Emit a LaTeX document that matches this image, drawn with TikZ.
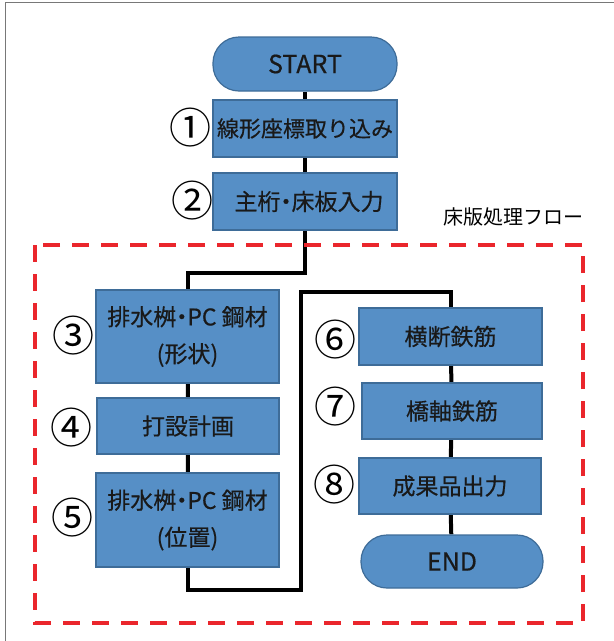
\documentclass[tikz,border=0pt]{standalone}
\usepackage{fontspec}
\newfontfamily\jp{Noto Sans CJK JP}
\newfontfamily\jpb[FakeBold=0.5]{Noto Sans CJK JP}
\usetikzlibrary{backgrounds}
\definecolor{boxfill}{RGB}{86,143,198}
\definecolor{boxedge}{RGB}{62,108,152}
\definecolor{dashred}{RGB}{234,38,44}
\definecolor{framegray}{RGB}{120,120,120}
\newcommand{\nd}{\kern-6pt・\kern-6pt}
\tikzset{
  box/.style={draw=boxedge, fill=boxfill, line width=1.2pt, inner sep=0pt,
    align=center, font=\jpb\fontsize{23}{37}\selectfont, text=black!90},
  term/.style={box, rounded corners=26pt, font=\jpb\fontsize{25}{30}\selectfont},
  num/.style={inner sep=0pt, font=\jp\fontsize{42}{44}\selectfont},
  conn/.style={line width=4pt, black, line join=miter},
}
\begin{document}
\begin{tikzpicture}[x=1pt,y=-1pt]
\useasboundingbox (0,0) rectangle (614,641);
\draw[framegray, line width=1pt] (5.5,641) -- (5.5,2.5) -- (614,2.5);

% nodes
\node[term, minimum width=184pt, minimum height=54pt] (start) at (305,64) {START};
\node[box, font=\jpb\fontsize{22}{37}\selectfont, minimum width=184pt, minimum height=57pt] (b1) at (305,128.5) {線形座標取り込み};
\node[box, minimum width=184pt, minimum height=57pt] (b2) at (305,201.5) {\hspace*{8pt}主桁\nd 床板入力};
\node[box, minimum width=183pt, minimum height=93pt] (b3) at (187.5,336.5) {排水桝\nd PC 鋼材\\(形状)};
\node[box, minimum width=182pt, minimum height=56pt] (b4) at (188,426) {打設計画};
\node[box, minimum width=183pt, minimum height=94pt] (b5) at (187.5,520) {排水桝\nd PC 鋼材\\(位置)};
\node[box, minimum width=183pt, minimum height=57pt] (b6) at (450.5,336.5) {横断鉄筋};
\node[box, minimum width=180pt, minimum height=56pt] (b7) at (452,411) {橋軸鉄筋};
\node[box, minimum width=182pt, minimum height=56pt] (b8) at (450,486) {成果品出力};
\node[term, minimum width=182pt, minimum height=53pt] (end) at (452,561.5) {END};

% circled numbers
\node[num] (n1) at (190,128) {①};
\node[num] (n2) at (192,201) {②};
\node[num] (n3) at (73.5,336) {③};
\node[num] (n4) at (71,428) {④};
\node[num] (n5) at (73,518) {⑤};
\node[num] (n6) at (335,340) {⑥};
\node[num] (n7) at (335,407) {⑦};
\node[num] (n8) at (334,485) {⑧};

% label
\node[font=\jp\fontsize{20}{24}\selectfont] (lbl) at (513,217) {床版処理フロー};

% dashed region
\draw[dashred, line width=4.5pt, dash pattern=on 17pt off 12pt] (35,245) rectangle (583,623);

\coordinate (ta) at (301,590);
\coordinate (tb) at (301,292);
\begin{scope}[on background layer]
\draw[conn] (start) -- (b1);
\draw[conn] (b1) -- (b2);
\draw[conn] (b2.south) -- ++(0,42) -| (b3.north);
\draw[conn] (b3) -- (b4);
\draw[conn] (b4) -- (b5);
\draw[conn] (b5.south) |- (ta) -- (tb) -| (b6.north);
\draw[conn] (b6) -- (b7);
\draw[conn] (b7) -- (b8);
\draw[conn] (b8) -- (end);
\end{scope}
\end{tikzpicture}
\end{document}
